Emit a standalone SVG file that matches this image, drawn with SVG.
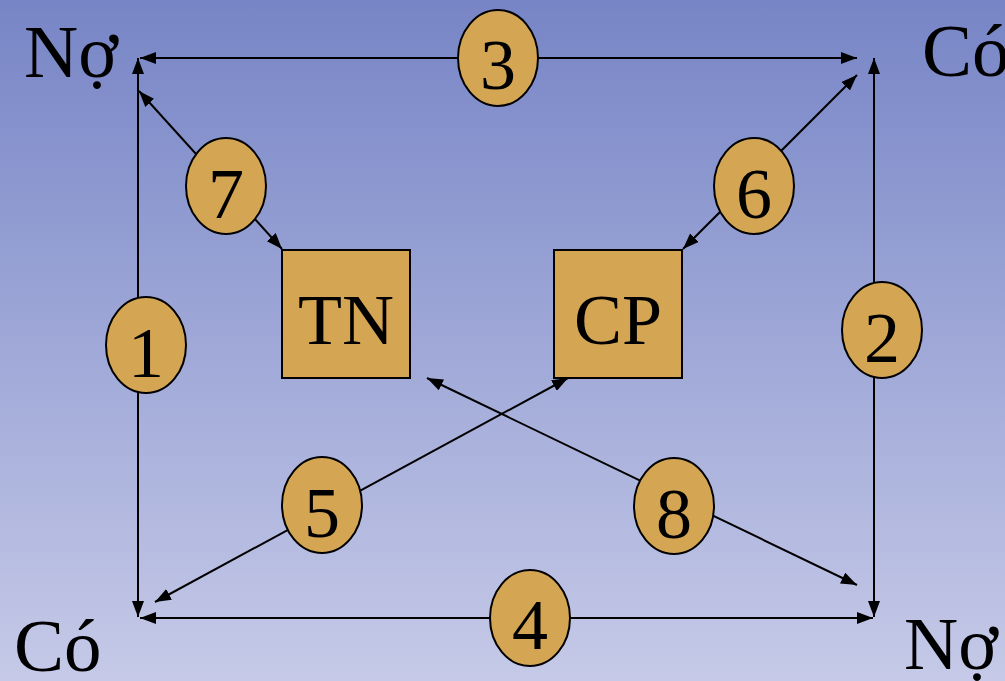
<svg xmlns="http://www.w3.org/2000/svg" width="1005" height="681" viewBox="0 0 1005 681">
  <defs>
    <linearGradient id="bg" x1="0" y1="0" x2="0" y2="1">
      <stop offset="0" stop-color="#7785c6"/>
      <stop offset="1" stop-color="#c6cae8"/>
    </linearGradient>
    <marker id="head" viewBox="0 0 16 12" markerWidth="16" markerHeight="12" refX="16" refY="6" orient="auto-start-reverse" markerUnits="userSpaceOnUse">
      <path d="M0,0 L16,6 L0,12 z" fill="#000"/>
    </marker>
    <style>
      .lbl { font-family: "Liberation Serif", "Times New Roman", serif; font-size: 75px; fill: #000; }
      .num { font-family: "Liberation Serif", "Times New Roman", serif; font-size: 72px; fill: #000; text-anchor: middle; }
      .box { fill: #d4a553; stroke: #000; stroke-width: 2; }
      .oval { fill: #d4a553; stroke: #000; stroke-width: 2; }
      .conn { stroke: #000; stroke-width: 2; fill: none; marker-start: url(#head); marker-end: url(#head); }
    </style>
  </defs>

  <rect width="1005" height="681" fill="url(#bg)"/>

  <!-- corner labels -->
  <text class="lbl" x="24" y="77">Nợ</text>
  <text class="lbl" x="922" y="76">Có</text>
  <text class="lbl" x="14" y="671">Có</text>
  <text class="lbl" x="904" y="669">Nợ</text>

  <!-- connectors -->
  <g id="connectors">
    <line class="conn" x1="138" y1="617" x2="138" y2="58"/>
    <line class="conn" x1="874" y1="617" x2="874" y2="58"/>
    <line class="conn" x1="140" y1="58" x2="857" y2="58"/>
    <line class="conn" x1="140" y1="618" x2="873" y2="618"/>
    <line class="conn" x1="139" y1="91" x2="282" y2="249"/>
    <line class="conn" x1="857" y1="75" x2="683" y2="249"/>
    <line class="conn" x1="568" y1="378" x2="155" y2="602"/>
    <line class="conn" x1="427" y1="378" x2="857" y2="585"/>
  </g>

  <!-- account boxes -->
  <g id="node-tn">
    <rect class="box" x="282" y="250" width="128" height="128"/>
    <text class="num" x="346" y="344">TN</text>
  </g>
  <g id="node-cp">
    <rect class="box" x="554" y="250" width="128" height="128"/>
    <text class="num" x="618" y="344">CP</text>
  </g>

  <!-- numbered steps -->
  <g id="step-1">
    <ellipse class="oval" cx="146" cy="345" rx="40" ry="48"/>
    <text class="num" x="146" y="377">1</text>
  </g>
  <g id="step-2">
    <ellipse class="oval" cx="882" cy="330" rx="40" ry="48"/>
    <text class="num" x="882" y="362">2</text>
  </g>
  <g id="step-3">
    <ellipse class="oval" cx="498" cy="58" rx="40" ry="48"/>
    <text class="num" x="498" y="89">3</text>
  </g>
  <g id="step-4">
    <ellipse class="oval" cx="530" cy="618" rx="40" ry="48"/>
    <text class="num" x="530" y="649">4</text>
  </g>
  <g id="step-5">
    <ellipse class="oval" cx="322" cy="505" rx="40" ry="48"/>
    <text class="num" x="322" y="537">5</text>
  </g>
  <g id="step-6">
    <ellipse class="oval" cx="754" cy="186" rx="40" ry="48"/>
    <text class="num" x="754" y="218">6</text>
  </g>
  <g id="step-7">
    <ellipse class="oval" cx="226" cy="186" rx="40" ry="48"/>
    <text class="num" x="226" y="218">7</text>
  </g>
  <g id="step-8">
    <ellipse class="oval" cx="674" cy="506" rx="40" ry="48"/>
    <text class="num" x="674" y="538">8</text>
  </g>
</svg>
